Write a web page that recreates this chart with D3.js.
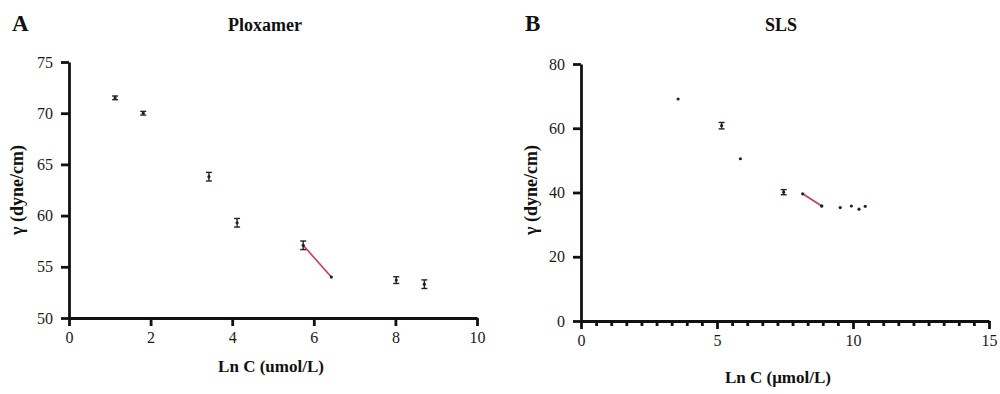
<!DOCTYPE html>
<html>
<head>
<meta charset="utf-8">
<script src="https://cdn.jsdelivr.net/npm/d3@7"></script>
<style>
  body { margin: 0; background: #fff; }
  svg { font-family: "Liberation Serif", "DejaVu Serif", serif; }
  .axis path, .axis line { stroke: #111; stroke-width: 2.8; }
  .axis text { font-size: 16px; fill: #1a1a1a; font-family: "Liberation Serif", serif; }
  .lbl { font-weight: bold; fill: #111; }
</style>
</head>
<body>
<div id="chart"></div>
<script>
// Panel A - Ploxamer
const ploxX   = [1.13, 1.82, 3.43, 4.12, 5.74, 8.02, 8.71];
const ploxY   = [71.5, 70.0, 63.8, 59.3, 57.1, 53.7, 53.3];
const ploxErr = [0.18, 0.18, 0.42, 0.42, 0.42, 0.33, 0.42];
const ploxFitX = [5.74, 6.43];
const ploxFitY = [57.1, 54.0];
const ploxXTicks = [0, 2, 4, 6, 8, 10];
const ploxYTicks = [50, 55, 60, 65, 70, 75];

// Panel B - SLS
const slsX   = [3.57, 5.17, 5.86, 7.45, 8.15, 8.85, 9.53, 9.94, 10.22, 10.45];
const slsY   = [69.1, 60.8, 50.5, 40.1, 39.6, 35.8, 35.3, 35.8, 34.8, 35.7];
const slsErr = [0, 1.0, 0, 0.8, 0, 0, 0, 0, 0, 0];
const slsFitX = [8.15, 8.85];
const slsFitY = [39.6, 35.8];
const slsXTicks = [0, 5, 10, 15];
const slsYTicks = [0, 20, 40, 60, 80];

const svg = d3.select("#chart").append("svg")
    .attr("width", 1000)
    .attr("height", 394);

function drawPanel(cfg) {
    const x = d3.scaleLinear().domain(cfg.xDomain).range(cfg.xRange);
    const y = d3.scaleLinear().domain(cfg.yDomain).range(cfg.yRange);
    const g = svg.append("g");

    // minor ticks (panel B only)
    if (cfg.minor) {
        const minor = [];
        for (let i = 0; i < cfg.xTicks.length - 1; i++) {
            const a = cfg.xTicks[i], b = cfg.xTicks[i + 1];
            for (let k = 1; k < cfg.minor; k++) minor.push(a + (b - a) * k / cfg.minor);
        }
        g.append("g")
            .attr("class", "axis")
            .attr("transform", `translate(0, ${cfg.yRange[0]})`)
            .call(d3.axisBottom(x).tickValues(minor).tickSize(5).tickSizeOuter(0).tickFormat(""))
            .select(".domain").remove();
    }

    g.append("g")
        .attr("class", "axis")
        .attr("transform", `translate(0, ${cfg.yRange[0]})`)
        .call(d3.axisBottom(x).tickValues(cfg.xTicks).tickSize(8).tickSizeOuter(0).tickPadding(6));

    g.append("g")
        .attr("class", "axis")
        .attr("transform", `translate(${cfg.xRange[0]}, 0)`)
        .call(d3.axisLeft(y).tickValues(cfg.yTicks).tickSize(8).tickSizeOuter(0).tickPadding(8));

    // fit line
    const line = d3.line().x(d => x(d[0])).y(d => y(d[1]));
    g.append("path")
        .datum(cfg.fitX.map((v, i) => [v, cfg.fitY[i]]))
        .attr("d", line)
        .attr("fill", "none")
        .attr("stroke", "#c93a5c")
        .attr("stroke-width", 1.6);
    g.append("circle")
        .attr("cx", x(cfg.fitX[1]))
        .attr("cy", y(cfg.fitY[1]))
        .attr("r", 1.6)
        .attr("fill", "#1d2626");

    const pts = cfg.xs.map((v, i) => ({x: v, y: cfg.ys[i], e: cfg.errs[i]}));

    // error bars
    const eb = g.selectAll(".eb")
        .data(pts.filter(d => d.e > 0))
        .enter().append("g")
        .attr("class", "eb")
        .attr("stroke", "#1d2626")
        .attr("stroke-width", 1.4);
    eb.append("line")
        .attr("x1", d => x(d.x)).attr("x2", d => x(d.x))
        .attr("y1", d => y(d.y - d.e)).attr("y2", d => y(d.y + d.e));
    eb.append("line")
        .attr("x1", d => x(d.x) - 3).attr("x2", d => x(d.x) + 3)
        .attr("y1", d => y(d.y - d.e)).attr("y2", d => y(d.y - d.e));
    eb.append("line")
        .attr("x1", d => x(d.x) - 3).attr("x2", d => x(d.x) + 3)
        .attr("y1", d => y(d.y + d.e)).attr("y2", d => y(d.y + d.e));

    g.selectAll(".pt")
        .data(pts)
        .enter().append("circle")
        .attr("class", "pt")
        .attr("cx", d => x(d.x))
        .attr("cy", d => y(d.y))
        .attr("r", 1.6)
        .attr("fill", "#1d2626");

    // labels
    g.append("text").attr("class", "lbl")
        .attr("x", cfg.letterX).attr("y", 31)
        .attr("font-size", 23)
        .text(cfg.letter);
    g.append("text").attr("class", "lbl")
        .attr("x", cfg.titleX).attr("y", 31)
        .attr("text-anchor", "middle")
        .attr("font-size", 18)
        .text(cfg.title);
    g.append("text").attr("class", "lbl")
        .attr("x", cfg.xLabelX).attr("y", cfg.xLabelY)
        .attr("text-anchor", "middle")
        .attr("font-size", 17)
        .text(cfg.xLabel);
    g.append("text").attr("class", "lbl")
        .attr("transform", `translate(${cfg.yLabelX}, ${cfg.yLabelY}) rotate(-90)`)
        .attr("text-anchor", "middle")
        .attr("font-size", 18)
        .text("γ (dyne/cm)");
}

drawPanel({
    xDomain: [0, 10], xRange: [69, 477],
    yDomain: [50, 75], yRange: [318, 62],
    xTicks: ploxXTicks, yTicks: ploxYTicks,
    xs: ploxX, ys: ploxY, errs: ploxErr,
    fitX: ploxFitX, fitY: ploxFitY,
    letter: "A", letterX: 12, title: "Ploxamer", titleX: 265,
    xLabel: "Ln C (umol/L)", xLabelX: 271, xLabelY: 372,
    yLabelX: 23, yLabelY: 190
});

drawPanel({
    xDomain: [0, 15], xRange: [581, 989],
    yDomain: [0, 80], yRange: [321, 64],
    xTicks: slsXTicks, yTicks: slsYTicks, minor: 9,
    xs: slsX, ys: slsY, errs: slsErr,
    fitX: slsFitX, fitY: slsFitY,
    letter: "B", letterX: 525, title: "SLS", titleX: 781,
    xLabel: "Ln C (μmol/L)", xLabelX: 778, xLabelY: 383,
    yLabelX: 537, yLabelY: 190
});
</script>
</body>
</html>
